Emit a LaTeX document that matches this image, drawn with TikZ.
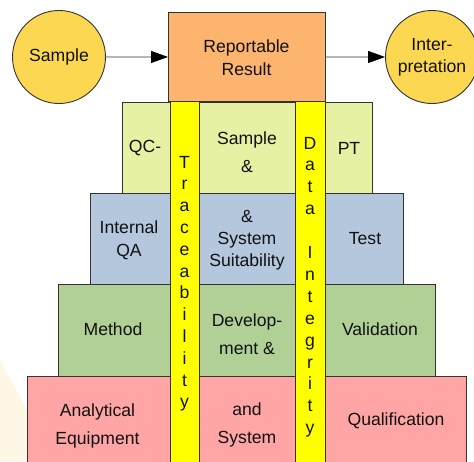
\documentclass[tikz,border=0pt]{standalone}
\usepackage{fontspec}
\setmainfont{Liberation Sans}
\usetikzlibrary{arrows.meta}

\definecolor{edge}{HTML}{333333}
\definecolor{ink}{HTML}{111111}
\definecolor{ballfill}{HTML}{FCD752}
\definecolor{resultfill}{HTML}{FDB46E}
\definecolor{qcfill}{HTML}{E6F1A4}
\definecolor{qafill}{HTML}{B4C7DD}
\definecolor{methfill}{HTML}{B0D095}
\definecolor{equipfill}{HTML}{FFA5A5}
\definecolor{barfill}{HTML}{FFFF00}
\definecolor{creamfill}{HTML}{FFF7E6}

\begin{document}
\begin{tikzpicture}[x=1pt,y=-1pt,
  block/.style={draw=edge,line width=0.9pt,inner sep=0pt,anchor=north west},
  ball/.style={circle,draw=edge,line width=0.9pt,fill=ballfill,inner sep=0pt,
    minimum size=93pt,font=\fontsize{17.6}{22}\selectfont,align=center,text=ink},
  lbl/.style={font=\fontsize{17.6}{#1}\selectfont,align=center,text=ink,inner sep=0pt},
  lbl/.default=22,
  letter/.style={font=\fontsize{17.6}{20}\selectfont,text=ink,anchor=base,inner sep=0pt},
  flow/.style={draw=edge,line width=0.9pt,-{Triangle[length=17pt,width=12pt,color=black]}}]

 \useasboundingbox (0,0) rectangle (474,461);
 \clip (0,0) rectangle (474,461);

 \fill[creamfill] (0,360) -- (27,410) -- (27,461) -- (0,461) -- cycle; % faint backdrop

 % top line: sample -> result -> interpretation
 \node[ball] (sample) at (59,57) {Sample};
 \node[block,fill=resultfill,minimum width=157pt,minimum height=89pt] (result) at (168,12) {};
 \node[lbl=23] (resulttxt) at (246.5,58) {Reportable\\Result};
 \node[ball] (interp) at (432,57) {Inter-\\pretation};
 \draw[flow] (sample) -- (result);
 \draw[flow] (result) -- (interp);

 % the four layers of the pyramid
 \node[block,fill=qcfill,minimum width=250pt,minimum height=91pt] (layer1) at (122,102) {};
 \node[block,fill=qafill,minimum width=313pt,minimum height=91pt] (layer2) at (90,193) {};
 \node[block,fill=methfill,minimum width=377pt,minimum height=92pt] (layer3) at (58,284) {};
 \node[block,fill=equipfill,minimum width=439pt,minimum height=100pt] (layer4) at (27,376) {};

 % the two pillars
 \node[block,fill=barfill,minimum width=29pt,minimum height=370pt] (trace) at (170,101) {};
 \node[block,fill=barfill,minimum width=30pt,minimum height=370pt] (integ) at (295,101) {};

 \foreach \ch [count=\i from 0] in {T,r,a,c,e,a,b,i,l,i,t,y}
   \node[letter] (tr-\i) at (184.5,168+21.8*\i) {\ch};
 \foreach \ch [count=\i from 0] in {D,a,t,a,{},I,n,t,e,g,r,i,t,y}
   \node[letter] (di-\i) at (310,149+21.9*\i) {\ch};

 % labels, layer by layer
 \node[lbl] (qc) at (145,148) {QC-};
 \node[lbl=28] (samp) at (247,152) {Sample\\\&};
 \node[lbl] (pt) at (349,148) {PT};

 \node[lbl=23] (intqa) at (129,240) {Internal\\QA};
 \node[lbl=22] (suit) at (247,240) {\&\\System\\Suitability};
 \node[lbl] (test) at (365,239) {Test};

 \node[lbl] (meth) at (113,329) {Method};
 \node[lbl=28] (devel) at (247,334) {Develop-\\ment \&};
 \node[lbl] (valid) at (380,329) {Validation};

 \node[lbl=28] (equip) at (97.5,426) {Analytical\\Equipment};
 \node[lbl=28] (system) at (247,425) {and\\System};
 \node[lbl] (qual) at (396,421) {Qualification};

\end{tikzpicture}
\end{document}
